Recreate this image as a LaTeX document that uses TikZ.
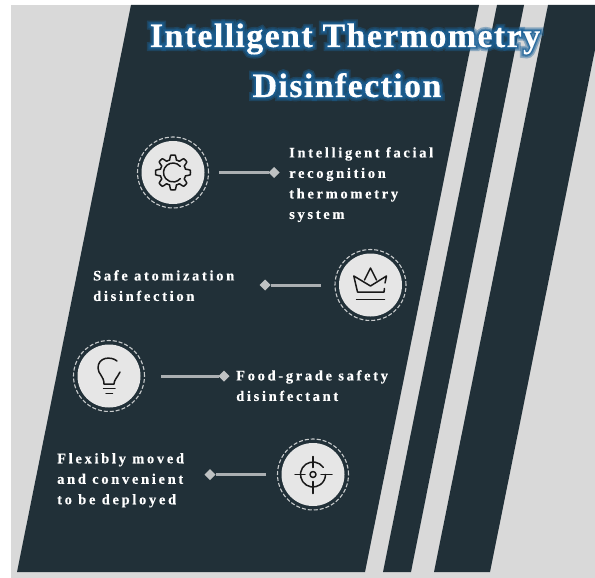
\documentclass[tikz,border=0pt]{standalone}
\usepackage{fontspec}
\usetikzlibrary{shapes.geometric,calc}
\setmainfont{Liberation Serif}
\definecolor{panel}{HTML}{213038}
\definecolor{paper}{HTML}{D9D9D9}
\definecolor{disc}{HTML}{E6E6E6}
\definecolor{glow}{HTML}{1B6299}
\newfontfamily\titlefont[LetterSpace=4,Ligatures=NoCommon,FakeBold=0.3]{Liberation Serif Bold}
\newfontfamily\glowfontA[LetterSpace=4,Ligatures=NoCommon,FakeBold=24]{Liberation Serif Bold}
\newfontfamily\glowfontB[LetterSpace=4,Ligatures=NoCommon,FakeBold=15]{Liberation Serif Bold}
\newfontfamily\glowfontC[LetterSpace=4,Ligatures=NoCommon,FakeBold=8]{Liberation Serif Bold}
\newfontfamily\bodyfont[LetterSpace=18.5,Ligatures=NoCommon,FakeBold=0.4]{Liberation Serif Bold}
\tikzset{
  band/.style={fill=panel,draw=none},
  ring/.style={circle,draw=disc!85!panel,line width=1.1pt,dash pattern=on 4pt off 2pt,minimum size=71pt,inner sep=0pt,outer sep=0pt},
  disc/.style={circle,fill=disc,minimum size=63pt,inner sep=0pt},
  tip/.style={diamond,fill=disc!80!panel,minimum size=11pt,inner sep=0pt,outer sep=0pt},
  conn/.style={draw=disc!70!panel,line width=3pt},
  label/.style={text=white,anchor=north west,align=left,inner sep=0pt,font=\bodyfont\fontsize{14.5}{20.5}\selectfont},
  ttl/.style={anchor=base,inner sep=0pt,font=\titlefont\fontsize{34}{34}\selectfont},
  ttlA/.style={anchor=base,inner sep=0pt,text=glow,opacity=.4,font=\glowfontA\fontsize{34}{34}\selectfont},
  ttlB/.style={anchor=base,inner sep=0pt,text=glow,opacity=.5,font=\glowfontB\fontsize{34}{34}\selectfont},
  ttlC/.style={anchor=base,inner sep=0pt,text=glow,opacity=.7,font=\glowfontC\fontsize{34}{34}\selectfont},
  icon/.style={draw=black!90,line width=1.5pt,line cap=round,line join=round,fill=none}
}
\begin{document}
\begin{tikzpicture}[x=1pt,y=-1pt]
\useasboundingbox (0,0) rectangle (595,578);
\fill[white] (0,0) rectangle (595,578);
\fill[paper] (11,5) rectangle (595,578);
% bands
\fill[band] (131,5) -- (479,5) -- (365,572) -- (17,572) -- cycle;
\fill[band] (497,5) -- (524,5) -- (411,572) -- (383,572) -- cycle;
\clip (0,0) rectangle (595,578);
\fill[band] (548,5) -- (604,5) -- (490,572) -- (434,572) -- cycle;
% title
\node[ttlA] (g1a) at (345,47) {Intelligent Thermometry};
\node[ttlB] (g1b) at (345,47) {Intelligent Thermometry};
\node[ttlC] (g1c) at (345,47) {Intelligent Thermometry};
\node[ttl,text=white] (t1) at (345,47) {Intelligent Thermometry};
\node[ttlA] (g2a) at (347,97) {Disinfection};
\node[ttlB] (g2b) at (347,97) {Disinfection};
\node[ttlC] (g2c) at (347,97) {Disinfection};
\node[ttl,text=white] (t2) at (347,97) {Disinfection};
% discs
\foreach \nm/\cx/\cy in {c1/173/172.5,c2/370.5/285,c3/109/376,c4/313/474.5}{
  \node[disc] (\nm in) at (\cx,\cy) {};
  \node[ring] (\nm) at (\cx,\cy) {};
}
% connectors
\node[tip] (d1) at (274,172.5) {};
\node[tip] (d2) at (265,285) {};
\node[tip] (d3) at (224,376) {};
\node[tip] (d4) at (210,474.5) {};
\draw[conn,shorten <=10.5pt] (c1) -- (d1);
\draw[conn,shorten <=14pt] (c2) -- (d2);
\draw[conn,shorten <=16.5pt] (c3) -- (d3);
\draw[conn,shorten <=11.5pt] (c4) -- (d4);
% labels
\node[label] (l1) at (289,147) {Intelligent facial\\recognition\\thermometry\\system};
\node[label] (l2) at (93,270) {Safe atomization\\disinfection};
\node[label] (l3) at (236,370) {Food-grade safety\\disinfectant};
\node[label] (l4) at (57,453) {Flexibly moved\\and convenient\\to be deployed};
% gear
\draw[icon] plot[smooth,samples=145,domain=0:360,variable=\t] ({173+(15.2+max(-2.3,min(2.3,4.5*cos(8*\t))))*cos(\t-90)},{172.5+(15.2+max(-2.3,min(2.3,4.5*cos(8*\t))))*sin(\t-90)}) -- cycle;
\draw[icon] (173,172.5) ++(-40:9.5) arc[start angle=-40,end angle=-320,radius=9.5];
% crown
\begin{scope}[shift={(370.5,285)}]
\draw[icon] (14.5,-2) -- (16,-9) -- (0,1) -- (-16.7,-9) -- (-13,7) -- (13.5,7) -- (14,3.5);
\draw[icon] (-6,-5) -- (0,-17) -- (6,-5);
\draw[icon] (-14,14.5) -- (14,14.5);
\end{scope}
% bulb
\begin{scope}[shift={(109,376)}]
\draw[icon] (8,-15) .. controls (2,-20) and (-11,-19) .. (-11,-8) .. controls (-11,-2) and (-5,0) .. (-5,8) -- (5,8) .. controls (5,4) and (8,2) .. (11,-4);
\draw[icon] (-5.5,12.3) -- (6,12.3);
\draw[icon] (-3,17.3) -- (3.5,17.3);
\end{scope}
% target
\begin{scope}[shift={(313,474.5)}]
\draw[icon] (0,0) ++(-35:12.5) arc[start angle=-35,end angle=-360,radius=12.5];
\draw[icon] (0,0) circle (3);
\draw[icon] (0,-18) -- (0,-7);
\draw[icon] (0,7) -- (0,19);
\draw[icon] (-18,0) -- (-8,0);
\draw[icon] (8,0) -- (19,0);
\end{scope}
\end{tikzpicture}
\end{document}
